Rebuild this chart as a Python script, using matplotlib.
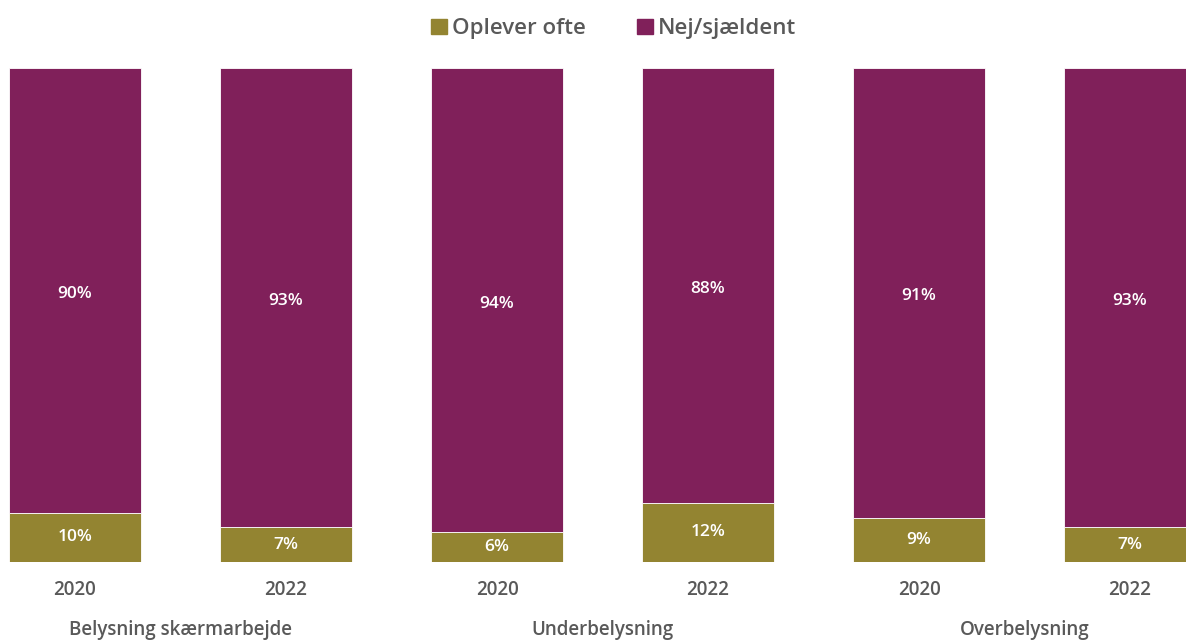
import numpy as np
import matplotlib.pyplot as plt
from matplotlib.patches import Patch

plt.rcParams['font.family'] = ['Open Sans', 'DejaVu Sans']

# data
groups = ['Belysning skærmarbejde', 'Underbelysning', 'Overbelysning']
years = ['2020', '2022', '2020', '2022', '2020', '2022']
oplever_ofte = [10, 7, 6, 12, 9, 7]
nej_sjaeldent = [90, 93, 94, 88, 91, 93]

olive = '#938431'
purple = '#80205A'
grey = '#595959'

fig = plt.figure(figsize=(11.86, 6.41), dpi=100)
ax = fig.add_axes([0, 0.1232, 1, 0.7707])

x = np.arange(len(years))
w = 0.6256
ax.bar(x, oplever_ofte, width=w, color=olive, edgecolor='white', linewidth=0.6)
ax.bar(x, nej_sjaeldent, width=w, bottom=oplever_ofte, color=purple, edgecolor='white', linewidth=0.6)

for i in range(len(x)):
    ax.text(x[i], oplever_ofte[i] / 2, f'{oplever_ofte[i]}%', ha='center', va='center',
            color='white', fontsize=12.5, fontweight='semibold')
    ax.text(x[i], oplever_ofte[i] + nej_sjaeldent[i] / 2 - 0.7, f'{nej_sjaeldent[i]}%', ha='center',
            va='center', color='white', fontsize=12.5, fontweight='semibold')

ax.set_xlim(-75 / 211, (1186 - 75) / 211)
ax.set_ylim(0, 100)
ax.set_xticks(x)
ax.set_xticklabels(years, fontsize=13.5, color=grey, fontweight='semibold')
ax.tick_params(axis='x', length=0, pad=13)
ax.set_yticks([])
for s in ax.spines.values():
    s.set_visible(False)

# group labels under the year labels
for g in range(len(groups)):
    ax.text(2 * g + 0.5, -13.7, groups[g], ha='center', va='center',
            fontsize=13.5, color=grey, fontweight='semibold')

handles = [Patch(color=olive, label='Oplever ofte'), Patch(color=purple, label='Nej/sjældent')]
leg = fig.legend(handles=handles, loc='center', bbox_to_anchor=(0.5175, 0.955), ncol=2,
                 frameon=False, handlelength=0.7, handleheight=0.7, handletextpad=0.25,
                 columnspacing=2.3, prop={'size': 16, 'weight': 'semibold'})
for t in leg.get_texts():
    t.set_color(grey)

fig.savefig('out.png', dpi=100)
